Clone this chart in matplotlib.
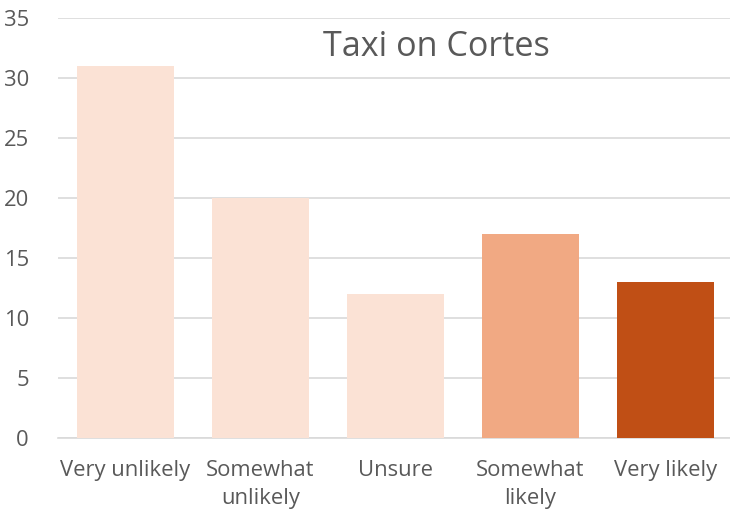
import matplotlib
matplotlib.use("Agg")
import matplotlib.pyplot as plt

categories = ["Very unlikely", "Somewhat\nunlikely", "Unsure", "Somewhat\nlikely", "Very likely"]
values = [31, 20, 12, 17, 13]
colors = ["#FBE2D5", "#FBE2D5", "#FBE2D5", "#F1A983", "#C04F15"]
yticks = [0, 5, 10, 15, 20, 25, 30, 35]
title = "Taxi on Cortes"

plt.rcParams['font.family'] = ['Open Sans', 'DejaVu Sans']
txt = "#595959"

fig = plt.figure(figsize=(7.30, 5.19), dpi=100)
ax = fig.add_axes([58/730, 81/519, 675/730, 420/519])
x = list(range(len(categories)))
ax.bar(x, values, width=0.715, color=colors, zorder=3)
ax.set_xlim(-0.5, len(categories) - 0.5)
ax.set_ylim(0, 35)
ax.set_yticks(yticks)
ax.set_yticklabels([str(v) for v in yticks], fontsize=15.8, color=txt)
ax.set_xticks(x)
ax.set_xticklabels(categories, fontsize=15.8, color=txt, linespacing=1.45)
ax.tick_params(axis='both', length=0)
ax.tick_params(axis='y', pad=21)
ax.tick_params(axis='x', pad=16)
ax.grid(axis='y', color="#D9D9D9", linewidth=1.2, zorder=0)
for s in ['top', 'right', 'left']:
    ax.spines[s].set_visible(False)
ax.spines['bottom'].set_color("#D9D9D9")
ax.spines['bottom'].set_linewidth(1.2)
fig.text(436/730, 1 - 47/519, title, fontsize=24.6, color=txt, ha='center', va='center')
fig.savefig("out.png", dpi=100)
